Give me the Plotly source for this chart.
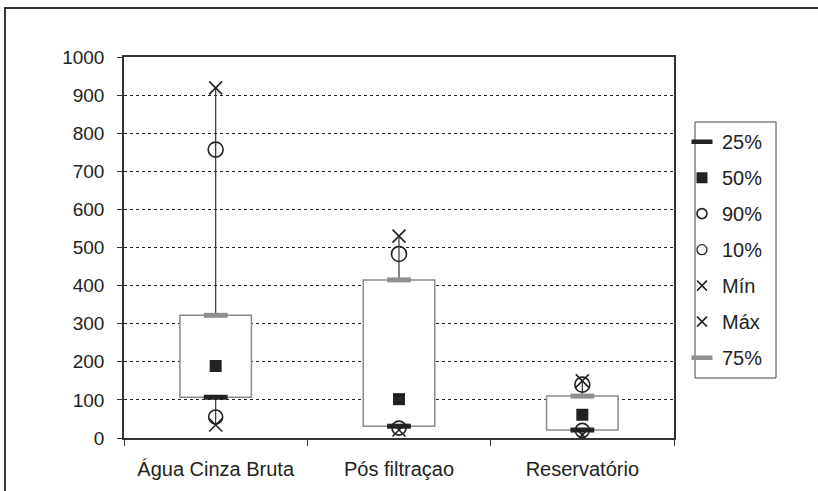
import plotly.graph_objects as go

categories = ["Água Cinza Bruta", "Pós filtraçao", "Reservatório"]
q25 = [107, 31, 21]
q50 = [189, 102, 61]
q75 = [322, 415, 110]
p90 = [757, 483, 140]
p10 = [55, 26, 20]
vmin = [34, 21, 8]
vmax = [919, 530, 150]

FONT = "Liberation Sans, Arial, sans-serif"
DARK = "#222"
GRAY = "#8f8f8f"
fig = go.Figure()

# boxes (interquartile range)
fig.add_trace(go.Bar(
    x=categories, y=[b - a for a, b in zip(q25, q75)], base=q25,
    width=0.39, marker=dict(color="white", line=dict(color="#8a8a8a", width=1.5)),
    showlegend=False, hoverinfo="skip"))

# whiskers: q75 -> max and min -> q25
wx, wy = [], []
for c, a, b, lo, hi in zip(categories, q25, q75, vmin, vmax):
    wx += [c, c, None, c, c, None]
    wy += [b, hi, None, lo, a, None]
fig.add_trace(go.Scatter(x=wx, y=wy, mode="lines", line=dict(color="#333", width=1.2),
                         showlegend=False, hoverinfo="skip"))

styles = {
    "25%": dict(symbol="line-ew", size=17, line=dict(color=DARK, width=5), color=DARK),
    "50%": dict(symbol="square", size=12, color=DARK),
    "90%": dict(symbol="circle-open", size=15, line=dict(color=DARK, width=1.6), color=DARK),
    "10%": dict(symbol="circle-open", size=14, line=dict(color=DARK, width=1.6), color=DARK),
    "Mín": dict(symbol="x-thin", size=13, line=dict(color=DARK, width=1.6), color=DARK),
    "Máx": dict(symbol="x-thin", size=13, line=dict(color=DARK, width=1.6), color=DARK),
    "75%": dict(symbol="line-ew", size=17, line=dict(color=GRAY, width=5), color=GRAY),
}
legend_styles = {
    "25%": dict(symbol="line-ew", size=15, line=dict(color=DARK, width=4.5), color=DARK),
    "50%": dict(symbol="square", size=11, color=DARK),
    "90%": dict(symbol="circle-open", size=10, line=dict(color=DARK, width=1.6), color=DARK),
    "10%": dict(symbol="circle-open", size=10, line=dict(color=DARK, width=1.3), color=DARK),
    "Mín": dict(symbol="x-thin", size=10, line=dict(color=DARK, width=1.5), color=DARK),
    "Máx": dict(symbol="x-thin", size=10, line=dict(color=DARK, width=1.5), color=DARK),
    "75%": dict(symbol="line-ew", size=15, line=dict(color=GRAY, width=4.5), color=GRAY),
}
series = {"Mín": vmin, "Máx": vmax, "10%": p10, "90%": p90, "50%": q50, "25%": q25, "75%": q75}
order = ["25%", "50%", "90%", "10%", "Mín", "Máx", "75%"]

for name, vals in series.items():
    fig.add_trace(go.Scatter(x=categories, y=vals, mode="markers", name=name,
                             marker=styles[name], showlegend=False))
for i, name in enumerate(order):
    fig.add_trace(go.Scatter(x=[None], y=[None], mode="markers", name=name,
                             legendgroup=name, legendrank=i + 1,
                             marker=legend_styles[name]))

fig.update_layout(
    width=818, height=491,
    margin=dict(l=124, r=144, t=57, b=53),
    paper_bgcolor="white", plot_bgcolor="white",
    font=dict(family=FONT, size=19, color=DARK),
    showlegend=True,
    legend=dict(x=1.0145, y=0.829, xanchor="left", yanchor="top",
                borderwidth=0, bgcolor="rgba(0,0,0,0)",
                tracegroupgap=7, font=dict(size=20), itemwidth=30),
    xaxis=dict(type="category", range=[-0.5, 2.5], showgrid=False,
               showline=True, linecolor="#333", linewidth=1.5, mirror=True,
               ticks="outside", ticklen=6, tickcolor="#333", tickson="boundaries",
               ticklabelstandoff=12, tickfont=dict(size=20)),
    yaxis=dict(range=[0, 1000], dtick=100, showgrid=True, gridcolor=DARK,
               griddash="3px,3px", gridwidth=1, zeroline=False,
               showline=True, linecolor="#333", linewidth=1.5, mirror=True,
               ticks="outside", ticklen=5, tickcolor="#333",
               ticklabelstandoff=9, tickfont=dict(size=19)),
    shapes=[
        dict(type="rect", xref="paper", yref="paper",
             x0=-0.2164, x1=1.4, y0=-0.3, y1=1.1286,
             line=dict(color="#333", width=2), fillcolor="rgba(0,0,0,0)", layer="below"),
        dict(type="rect", xref="paper", yref="paper",
             x0=1.0382, x1=1.1855, y0=0.1575, y1=0.8294,
             line=dict(color="#444", width=1), fillcolor="white", layer="below"),
    ],
)

fig.write_html("out.html", config={"displayModeBar": False},
               post_script="document.body.style.margin='0px';document.body.style.padding='0px';")
